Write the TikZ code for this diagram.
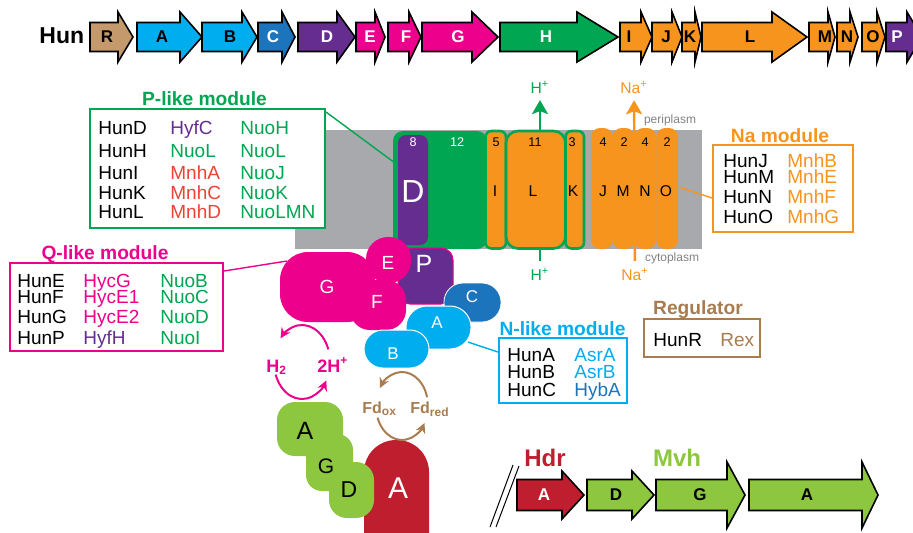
\documentclass[tikz,border=0pt]{standalone}
\usepackage{fontspec}
\setmainfont{Liberation Sans}
\usetikzlibrary{arrows.meta}

\definecolor{hunmag}{HTML}{EC008C}
\definecolor{hunpur}{HTML}{662D91}
\definecolor{hungrn}{HTML}{00A651}
\definecolor{hunorg}{HTML}{F7941E}
\definecolor{huncyn}{HTML}{00AEEF}
\definecolor{hunblu}{HTML}{1C75BC}
\definecolor{huntan}{HTML}{C49A6C}
\definecolor{hunbrn}{HTML}{A97C50}
\definecolor{hdrred}{HTML}{BE1E2D}
\definecolor{mvhgrn}{HTML}{8DC63F}
\definecolor{mnhred}{HTML}{EF4136}
\definecolor{membr}{HTML}{A7A9AC}
\definecolor{memtxt}{HTML}{808285}

\tikzset{
  genebody/.style={draw=black, line width=0.8pt, line join=miter},
  genelabel/.style={font=\bfseries\fontsize{8.5}{10}\selectfont, inner sep=0pt},
  modbox/.style={draw=#1, line width=1pt, fill=white, inner sep=0pt},
  modtitle/.style={font=\bfseries\fontsize{9.6}{11}\selectfont, anchor=base, inner sep=0pt},
  entry/.style={font=\fontsize{9.5}{11}\selectfont, anchor=base west, inner sep=0pt},
  link/.style={line width=0.7pt},
  tmnum/.style={font=\fontsize{6.3}{7}\selectfont, inner sep=0pt},
  tmlet/.style={font=\fontsize{7.8}{9}\selectfont, inner sep=0pt},
  ionlabel/.style={font=\fontsize{7.8}{9}\selectfont, anchor=base},
  iontrack/.style={line width=1.2pt, -{Stealth[length=7pt,width=8pt,inset=1.5pt]}},
  memlabel/.style={text=memtxt, font=\fontsize{6}{7}\selectfont, anchor=base, inner sep=0pt},
  turnover/.style={line width=1pt, -{Stealth[length=5pt,width=5pt]}},
  cyclabel/.style={font=\bfseries\fontsize{9}{10}\selectfont, anchor=base west, inner sep=0pt},
  sublabel/.style={text=white, inner sep=0pt},
}

% gene arrow: name, left, head start, tip, label x, fill, text colour, label
\newcommand{\gene}[8]{%
  \draw[genebody, fill=#6] (#2,\gmid-\gbody) -- (#3,\gmid-\gbody) -- (#3,\gmid-\ghead)
    -- (#4,\gmid) -- (#3,\gmid+\ghead) -- (#3,\gmid+\gbody) -- (#2,\gmid+\gbody) -- cycle;
  \node[genelabel, text=#7] (#1) at (#5,\gmid) {#8};
}

\begin{document}
\begin{tikzpicture}[x=0.5pt, y=-0.5pt]
\clip (0,0) rectangle (913,532);

% operon
\node[font=\bfseries\fontsize{11.5}{13}\selectfont, anchor=base west, inner sep=0pt] (hunlbl) at (39,43) {Hun};
\def\gmid{37}\def\gbody{14.5}\def\ghead{25}
\gene{hunR}{90}{118}{133}{107}{huntan}{black}{R}
\gene{hunA}{137}{180}{202}{162}{huncyn}{black}{A}
\gene{hunB}{202}{242}{257}{230}{huncyn}{black}{B}
\gene{hunC}{258}{282}{295}{273}{hunblu}{white}{C}
\gene{hunD}{298}{337}{355}{327}{hunpur}{white}{D}
\gene{hunE}{356}{375}{385}{370}{hunmag}{white}{E}
\gene{hunF}{388}{409}{421}{406}{hunmag}{white}{F}
\gene{hunG}{422}{472}{498}{458}{hunmag}{white}{G}
\gene{hunH}{500}{577}{618}{546}{hungrn}{white}{H}
\gene{hunI}{620}{641}{652}{629}{hunorg}{black}{I}
\gene{hunJ}{652}{672}{682}{666}{hunorg}{black}{J}
\gene{hunK}{682}{695}{701}{690}{hunorg}{black}{K}
\gene{hunL}{702}{772}{807}{750}{hunorg}{black}{L}
\gene{hunM}{809}{828}{835}{825}{hunorg}{black}{M}
\gene{hunN}{837}{850}{858}{847}{hunorg}{black}{N}
\gene{hunO}{862}{877}{885}{873}{hunorg}{black}{O}
\gene{hunP}{886}{907}{922}{897}{hunpur}{white}{P}

% membrane
\fill[membr] (295,130) rectangle (702,249);
\node[memlabel] (peri) at (670,123) {periplasm};
\node[memlabel] (cyto) at (672,261) {cytoplasm};

\node[ionlabel, text=hungrn] (hpout) at (540,93) {H\textsuperscript{+}};
\node[ionlabel, text=hungrn] (hpin) at (540,280) {H\textsuperscript{+}};
\node[ionlabel, text=hunorg] (naout) at (634,93) {Na\textsuperscript{+}};
\node[ionlabel, text=hunorg] (nain) at (635,280) {Na\textsuperscript{+}};
\draw[iontrack, hungrn] (hpin) -- (hpout);
\draw[iontrack, hunorg] (nain) -- (naout);

% transmembrane subunits
\fill[hungrn, rounded corners=5pt] (393,131) rectangle (487,249);
\fill[hunpur, rounded corners=4pt] (398,135) rectangle (428,245);
\filldraw[fill=hunorg, draw=hungrn, line width=1.3pt, rounded corners=3pt] (485.5,131) rectangle (506,248.5);
\filldraw[fill=hunorg, draw=hungrn, line width=1.3pt, rounded corners=6pt] (506,131) rectangle (565.5,248.5);
\filldraw[fill=hunorg, draw=hungrn, line width=1.3pt, rounded corners=3pt] (565.5,131) rectangle (584,248.5);
\foreach \x in {591,612.75,634.5,656.25}
  \fill[hunorg, rounded corners=4.5pt] (\x,128) rectangle ++(21.75,121);

\foreach \x/\n/\c [count=\i] in {413/8/white, 457/12/white, 496/5/black, 535/11/black, 572/3/black,
    603/4/black, 624/2/black, 645/4/black, 667/2/black}
  \node[tmnum, text=\c] (tm\i) at (\x,142) {\n};
\node[font=\fontsize{16}{18}\selectfont, text=white, inner sep=0pt] (subD) at (413,191) {D};
\foreach \x/\l in {495/I, 533/L, 573/K, 603/J, 623/M, 645/N, 666/O}
  \node[tmlet] (sub\l) at (\x,191) {\l};

% peripheral arm
\fill[hunpur, draw=hunmag, line width=0.5pt, rounded corners=6pt] (398,248) rectangle (453,304);
\fill[hunmag, rounded corners=14pt] (280,252) rectangle (375,322);
\fill[hunmag, rounded corners=11pt] (366,237) rectangle (411,283);
\fill[hunmag, rounded corners=10pt] (350,280) rectangle (406,330);
\filldraw[fill=hunblu, draw=white, line width=0.4pt, rounded corners=9.5pt] (444,283) rectangle (501,322);
\filldraw[fill=huncyn, draw=white, line width=0.5pt, rounded corners=10.5pt] (406,306) rectangle (471,349);
\filldraw[fill=huncyn, draw=white, line width=0.5pt, rounded corners=9.5pt] (364,330) rectangle (429,368);
\node[sublabel, font=\fontsize{9.5}{11}\selectfont] (protG) at (327,287) {G};
\node[sublabel, font=\fontsize{9.5}{11}\selectfont] (protE) at (388,263) {E};
\node[sublabel, font=\fontsize{9.5}{11}\selectfont] (protF) at (377,302) {F};
\node[sublabel, font=\fontsize{12.5}{14}\selectfont] (protP) at (424,264) {P};
\node[sublabel, font=\fontsize{8.5}{10}\selectfont] (protC) at (472,297) {C};
\node[sublabel, font=\fontsize{8.5}{10}\selectfont] (protA) at (437,323) {A};
\node[sublabel, font=\fontsize{8.5}{10}\selectfont] (protB) at (393,354) {B};

% Hdr / Mvh
\fill[hdrred, rounded corners=16pt] (364,440) rectangle (429,570);
\fill[mvhgrn, rounded corners=9pt] (277,402) rectangle (343,456);
\fill[mvhgrn, rounded corners=8pt] (306,434) rectangle (353,491);
\fill[mvhgrn, rounded corners=9pt] (329,462) rectangle (374,518);
\node[font=\fontsize{12.5}{14}\selectfont, inner sep=0pt] (mvhprotA) at (305,431) {A};
\node[font=\fontsize{10.5}{12}\selectfont, inner sep=0pt] (mvhprotG) at (326,466) {G};
\node[font=\fontsize{11.5}{13}\selectfont, inner sep=0pt] (mvhprotD) at (349,490) {D};
\node[sublabel, font=\fontsize{15}{17}\selectfont] (hdrprotA) at (398,488) {A};

% H2 and ferredoxin turnover
\draw[turnover, hunmag] ([shift={(20:14pt and 18.5pt)}]302,362) arc[start angle=20, end angle=140, x radius=14pt, y radius=18.5pt];
\draw[turnover, hunmag] ([shift={(200:14pt and 18.5pt)}]302,362) arc[start angle=200, end angle=330, x radius=14pt, y radius=18.5pt];
\node[cyclabel, text=hunmag] (htwo) at (266,372) {H\textsubscript{2}};
\node[cyclabel, text=hunmag] (hplus) at (317,372) {2H\textsuperscript{+}};
\draw[turnover, hunbrn] ([shift={(15:13pt and 17pt)}]402,406) arc[start angle=15, end angle=148, x radius=13pt, y radius=17pt];
\draw[turnover, hunbrn] ([shift={(200:13pt and 17pt)}]402,406) arc[start angle=200, end angle=330, x radius=13pt, y radius=17pt];
\node[cyclabel, text=hunbrn, font=\bfseries\fontsize{8}{9}\selectfont] (fdox) at (362,413) {Fd\textsubscript{ox}};
\node[cyclabel, text=hunbrn, font=\bfseries\fontsize{8}{9}\selectfont] (fdred) at (410,413) {Fd\textsubscript{red}};

% module boxes
\node[modbox=hungrn, minimum width=117.5pt, minimum height=59.5pt] (pbox) at (207.5,168.5) {};
\node[modtitle, text=hungrn] (ptitle) at (204.5,105) {P-like module};
\foreach \y/\a/\b/\c/\d in {134/HunD/HyfC/hunpur/NuoH, 157/HunH/NuoL/hungrn/NuoL,
    179/HunI/MnhA/mnhred/NuoJ, 199/HunK/MnhC/mnhred/NuoK, 218/HunL/MnhD/mnhred/NuoLMN} {
  \node[entry] (\a) at (98,\y) {\a};
  \node[entry, text=\c] (\a-x) at (170,\y) {\b};
  \node[entry, text=hungrn] (\a-y) at (240,\y) {\d};
}

\node[modbox=hunmag, minimum width=106.5pt, minimum height=44pt] (qbox) at (116.5,307) {};
\node[modtitle, text=hunmag] (qtitle) at (105,259) {Q-like module};
\foreach \y/\a/\b/\c/\d in {287/HunE/HycG/hunmag/NuoB, 303/HunF/HycE1/hunmag/NuoC,
    323/HunG/HycE2/hunmag/NuoD, 344/HunP/HyfH/hunpur/NuoI} {
  \node[entry] (\a) at (17,\y) {\a};
  \node[entry, text=\c] (\a-x) at (83,\y) {\b};
  \node[entry, text=hungrn] (\a-y) at (160,\y) {\d};
}

\node[modbox=hunorg, minimum width=70pt, minimum height=43.5pt] (nabox) at (783,188.5) {};
\node[modtitle, text=hunorg] (natitle) at (780,142) {Na module};
\foreach \y/\a/\b in {167/HunJ/MnhB, 183/HunM/MnhE, 203/HunN/MnhF, 223/HunO/MnhG} {
  \node[entry] (\a) at (723,\y) {\a};
  \node[entry, text=hunorg] (\a-x) at (787,\y) {\b};
}

\node[modbox=huncyn, minimum width=64pt, minimum height=32.5pt] (nbox) at (563,370.5) {};
\node[modtitle, text=huncyn] (ntitle) at (562.5,335) {N-like module};
\foreach \y/\a/\b/\c in {361/HunA/AsrA/huncyn, 378/HunB/AsrB/huncyn, 396/HunC/HybA/hunblu} {
  \node[entry] (\a) at (507,\y) {\a};
  \node[entry, text=\c] (\a-x) at (574,\y) {\b};
}

\node[modbox=hunbrn, minimum width=58pt, minimum height=19pt] (rbox) at (702,338) {};
\node[modtitle, text=hunbrn] (rtitle) at (698,314) {Regulator};
\node[entry] (HunR) at (653,346) {HunR};
\node[entry, text=hunbrn] (HunR-x) at (720,346) {Rex};

% links to the subunits
\coordinate (dlink) at (395,163);
\coordinate (glink) at (287,261);
\coordinate (olink) at (679,187);
\coordinate (alink) at (468,342);
\draw[link, hungrn] ([yshift=-2pt]pbox.north east) -- (dlink);
\draw[link, hunmag] ([yshift=-4.5pt]qbox.north east) -- (glink);
\draw[link, hunorg] (olink) -- ([yshift=-27pt]nabox.north west);
\draw[link, huncyn] (alink) -- ([yshift=-7.5pt]nbox.north west);

% hdr and mvh genes
\draw[line width=0.5pt] (490,527) -- (513,465);
\draw[line width=0.5pt] (496,527) -- (519,466);
\node[font=\bfseries\fontsize{12}{14}\selectfont, text=hdrred, inner sep=0pt] (hdrlbl) at (545,458) {Hdr};
\node[font=\bfseries\fontsize{12}{14}\selectfont, text=mvhgrn, inner sep=0pt] (mvhlbl) at (677,458) {Mvh};
\def\gmid{495}\def\gbody{15.5}\def\ghead{24}
\gene{hdrA}{517}{562}{584}{544}{hdrred}{white}{A}
\gene{mvhD}{587}{632}{654}{616}{mvhgrn}{black}{D}
\def\ghead{33}
\gene{mvhG}{656}{727}{745}{700}{mvhgrn}{black}{G}
\gene{mvhA}{749}{862}{878}{807}{mvhgrn}{black}{A}
\end{tikzpicture}
\end{document}
